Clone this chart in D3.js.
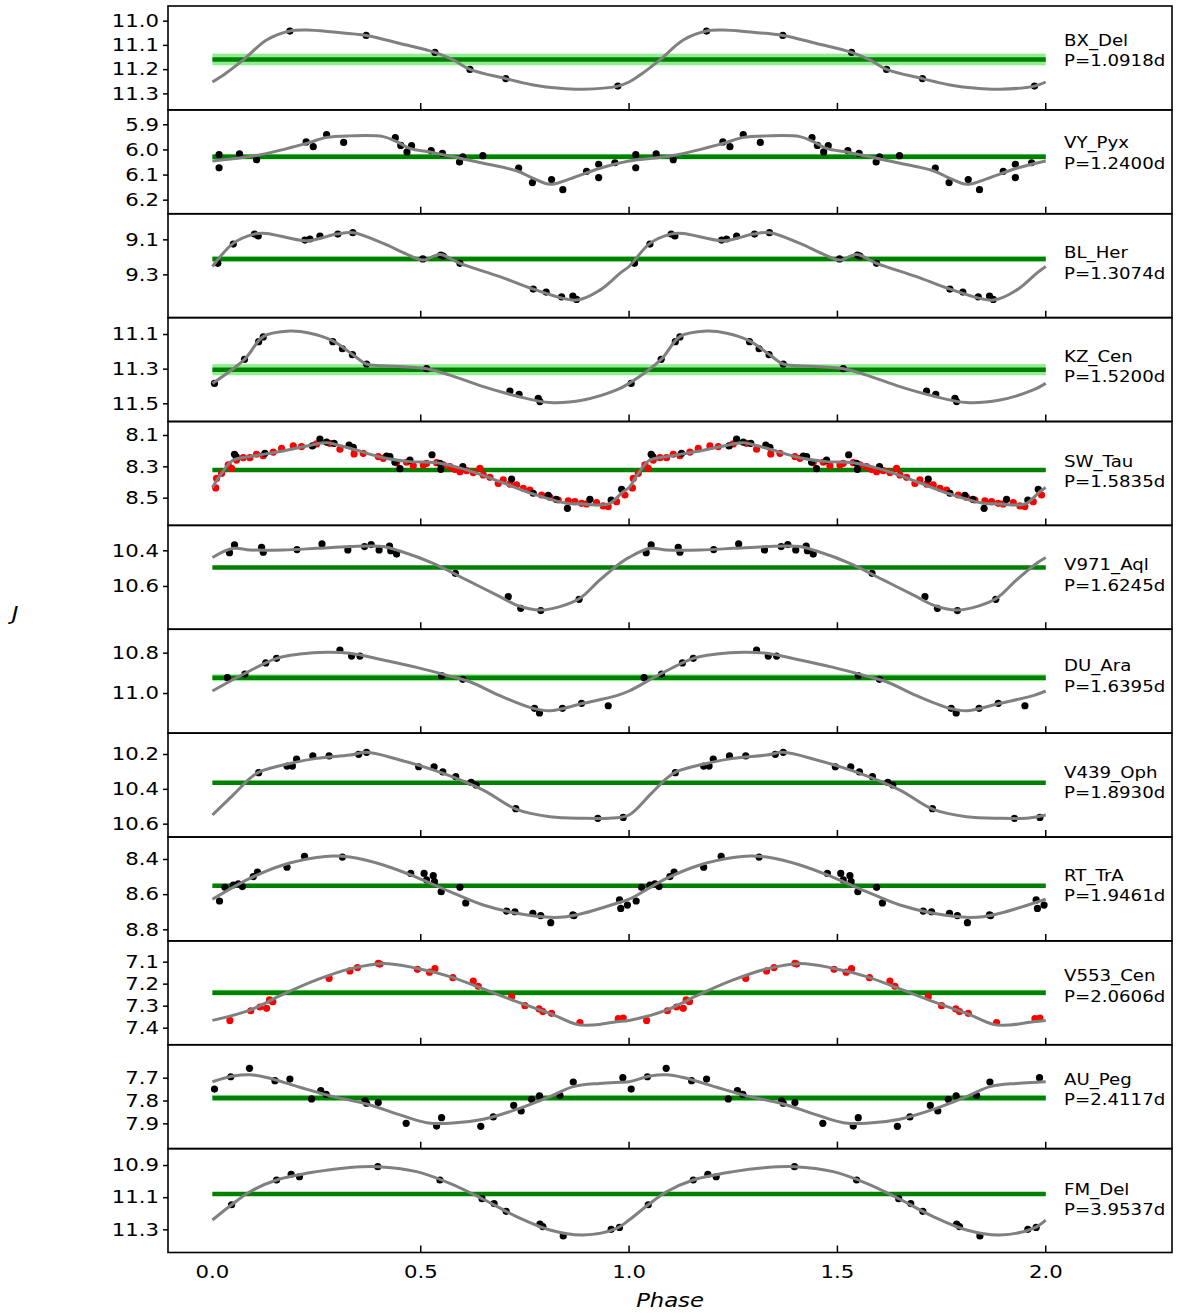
<!DOCTYPE html>
<html>
<head>
<meta charset="utf-8">
<script src="https://cdn.jsdelivr.net/npm/d3@7"></script>
<style>
  body { margin: 0; background: #fff; }
  text { font-family: "DejaVu Sans", sans-serif; fill: #000; }
</style>
</head>
<body>
<svg id="chart" width="1177" height="1313"></svg>
<script>
// star names, periods (days)
const stars = ["BX_Del","VY_Pyx","BL_Her","KZ_Cen","SW_Tau","V971_Aql","DU_Ara","V439_Oph","RT_TrA","V553_Cen","AU_Peg","FM_Del"];
const periods = ["1.0918","1.2400","1.3074","1.5200","1.5835","1.6245","1.6395","1.8930","1.9461","2.0606","2.4117","3.9537"];
// mean J (green line) and its uncertainty (light band)
const meanJ = [11.16, 6.029, 9.212, 11.306, 8.323, 10.497, 10.924, 10.365, 8.552, 7.241, 7.789, 11.08];
const meanErr = [0.024, 0.011, 0.015, 0.032, 0.008, 0.008, 0.017, 0.008, 0.01, 0.013, 0.013, 0.01];
// y ranges (top, bottom) in magnitudes - inverted axis
const yTop = [10.9395, 5.8425, 8.9538, 11.0054, 8.0138, 10.2602, 10.6839, 10.08, 8.2749, 7.0056, 7.5558, 10.798];
const yBottom = [11.368, 6.256, 9.547, 11.605, 8.677, 10.8426, 11.1988, 10.6765, 8.8658, 7.4776, 8.0107, 11.444];
const yTicks = [
  [11.0, 11.1, 11.2, 11.3], [5.9, 6.0, 6.1, 6.2], [9.1, 9.3], [11.1, 11.3, 11.5],
  [8.1, 8.3, 8.5], [10.4, 10.6], [10.8, 11.0], [10.2, 10.4, 10.6],
  [8.4, 8.6, 8.8], [7.1, 7.2, 7.3, 7.4], [7.7, 7.8, 7.9], [10.9, 11.1, 11.3]
];
const xTickLabels = [0.0, 0.5, 1.0, 1.5, 2.0];

// fitted light curves over one cycle [phase, J]
const bxDelFit = [[0,11.253],[0.03,11.22],[0.074,11.162],[0.13,11.08],[0.186,11.043],[0.226,11.039],[0.29,11.047],[0.369,11.061],[0.45,11.094],[0.534,11.131],[0.578,11.162],[0.618,11.201],[0.704,11.239],[0.77,11.265],[0.834,11.279],[0.89,11.283],[0.973,11.27]];
const vyPyxFit = [[0,6.046],[0.106,6.024],[0.226,5.976],[0.274,5.952],[0.33,5.946],[0.41,5.949],[0.442,5.969],[0.474,5.996],[0.53,6.013],[0.65,6.055],[0.73,6.085],[0.77,6.115],[0.81,6.139],[0.85,6.122],[0.93,6.075]];
const blHerFit = [[0,9.255],[0.05,9.123],[0.1,9.07],[0.13,9.066],[0.226,9.108],[0.298,9.07],[0.338,9.062],[0.41,9.123],[0.466,9.184],[0.506,9.218],[0.546,9.186],[0.594,9.237],[0.69,9.313],[0.77,9.384],[0.874,9.447],[0.93,9.39],[0.98,9.29]];
const kzCenFit = [[0,11.385],[0.077,11.246],[0.122,11.115],[0.186,11.083],[0.234,11.096],[0.289,11.14],[0.338,11.221],[0.37,11.273],[0.41,11.283],[0.514,11.3],[0.57,11.337],[0.65,11.404],[0.73,11.458],[0.81,11.496],[0.89,11.481],[0.97,11.423]];
const swTauFit = [[0,8.435],[0.022,8.345],[0.05,8.26],[0.09,8.238],[0.17,8.202],[0.25,8.157],[0.274,8.149],[0.33,8.185],[0.41,8.245],[0.474,8.27],[0.538,8.277],[0.61,8.323],[0.69,8.398],[0.77,8.477],[0.85,8.536],[0.89,8.54],[0.93,8.547],[0.954,8.536],[0.986,8.462]];
const v971AqlFit = [[0,10.44],[0.05,10.389],[0.09,10.398],[0.17,10.398],[0.25,10.389],[0.33,10.379],[0.41,10.379],[0.45,10.404],[0.53,10.473],[0.61,10.566],[0.69,10.66],[0.73,10.707],[0.786,10.735],[0.834,10.716],[0.882,10.669],[0.93,10.566],[0.98,10.47]];
const duAraFit = [[0,10.99],[0.074,10.907],[0.154,10.828],[0.21,10.807],[0.274,10.798],[0.33,10.803],[0.41,10.836],[0.49,10.873],[0.57,10.916],[0.618,10.944],[0.69,11.013],[0.77,11.076],[0.81,11.088],[0.89,11.051],[0.97,11.013]];
const v439OphFit = [[0,10.55],[0.05,10.435],[0.09,10.34],[0.114,10.301],[0.186,10.254],[0.25,10.225],[0.33,10.206],[0.37,10.19],[0.45,10.234],[0.554,10.311],[0.65,10.407],[0.73,10.518],[0.81,10.56],[0.89,10.569],[0.96,10.567]];
const rtTraFit = [[0,8.629],[0.09,8.51],[0.17,8.434],[0.25,8.392],[0.29,8.383],[0.33,8.389],[0.41,8.434],[0.49,8.504],[0.57,8.586],[0.65,8.662],[0.73,8.709],[0.81,8.732],[0.85,8.728],[0.89,8.709],[0.97,8.652]];
const v553CenFit = [[0,7.367],[0.09,7.32],[0.17,7.248],[0.25,7.183],[0.33,7.133],[0.41,7.108],[0.49,7.13],[0.57,7.168],[0.65,7.224],[0.73,7.282],[0.81,7.335],[0.874,7.385],[0.914,7.388],[0.97,7.373]];
const auPegFit = [[0,7.718],[0.05,7.693],[0.09,7.687],[0.13,7.699],[0.21,7.742],[0.29,7.783],[0.37,7.815],[0.45,7.863],[0.514,7.897],[0.57,7.9],[0.65,7.882],[0.73,7.839],[0.81,7.783],[0.866,7.739],[0.93,7.725],[0.98,7.72]];
const fmDelFit = [[0,11.242],[0.046,11.147],[0.09,11.066],[0.154,10.993],[0.25,10.941],[0.33,10.915],[0.397,10.91],[0.49,10.941],[0.57,11.014],[0.65,11.113],[0.73,11.221],[0.81,11.304],[0.89,11.335],[0.97,11.294]];

// observations, black [phase, J]
const bxDelObs = [[0.186,11.043],[0.369,11.061],[0.534,11.131],[0.618,11.201],[0.704,11.239],[0.973,11.27]];
const vyPyxObs = [[0.016,6.021],[0.016,6.073],[0.065,6.018],[0.106,6.041],[0.225,5.97],[0.242,5.989],[0.274,5.941],[0.315,5.972],[0.439,5.953],[0.452,5.984],[0.467,6.01],[0.478,5.985],[0.525,6.005],[0.552,6.016],[0.593,6.05],[0.601,6.029],[0.649,6.025],[0.735,6.074],[0.768,6.132],[0.814,6.12],[0.841,6.16],[0.898,6.087],[0.927,6.059],[0.927,6.112],[0.966,6.053]];
const blHerObs = [[0.013,9.237],[0.05,9.127],[0.101,9.07],[0.11,9.081],[0.222,9.104],[0.234,9.098],[0.258,9.081],[0.301,9.07],[0.337,9.062],[0.505,9.212],[0.548,9.19],[0.554,9.195],[0.594,9.237],[0.77,9.384],[0.801,9.401],[0.838,9.428],[0.865,9.424],[0.874,9.443]];
const kzCenObs = [[0.005,11.385],[0.077,11.246],[0.111,11.144],[0.122,11.117],[0.289,11.144],[0.312,11.185],[0.336,11.219],[0.37,11.273],[0.514,11.3],[0.714,11.429],[0.736,11.448],[0.782,11.471],[0.786,11.49]];
const swTauObs = [[0.053,8.223],[0.057,8.238],[0.126,8.217],[0.24,8.17],[0.258,8.126],[0.274,8.145],[0.292,8.153],[0.328,8.164],[0.338,8.179],[0.418,8.234],[0.426,8.238],[0.438,8.274],[0.45,8.315],[0.474,8.26],[0.527,8.226],[0.546,8.281],[0.548,8.319],[0.601,8.302],[0.718,8.381],[0.77,8.472],[0.806,8.485],[0.825,8.511],[0.852,8.568],[0.906,8.511],[0.957,8.515],[0.982,8.447]];
const v971AqlObs = [[0.041,10.413],[0.053,10.37],[0.118,10.383],[0.122,10.411],[0.203,10.396],[0.263,10.364],[0.325,10.398],[0.365,10.379],[0.381,10.368],[0.4,10.398],[0.425,10.376],[0.428,10.402],[0.442,10.421],[0.583,10.529],[0.71,10.66],[0.74,10.725],[0.788,10.738],[0.88,10.675]];
const duAraObs = [[0.036,10.924],[0.078,10.906],[0.128,10.851],[0.154,10.828],[0.306,10.787],[0.334,10.817],[0.354,10.817],[0.55,10.914],[0.601,10.932],[0.773,11.076],[0.785,11.099],[0.84,11.076],[0.886,11.051],[0.95,11.063]];
const v439OphObs = [[0.111,10.307],[0.179,10.269],[0.192,10.269],[0.202,10.229],[0.241,10.211],[0.28,10.211],[0.351,10.202],[0.37,10.19],[0.495,10.273],[0.532,10.273],[0.553,10.303],[0.584,10.33],[0.621,10.363],[0.633,10.378],[0.728,10.514],[0.925,10.569],[0.986,10.564]];
const rtTraObs = [[0.017,8.639],[0.03,8.561],[0.05,8.548],[0.062,8.542],[0.072,8.557],[0.098,8.5],[0.108,8.474],[0.179,8.447],[0.221,8.385],[0.312,8.389],[0.476,8.482],[0.508,8.482],[0.514,8.519],[0.53,8.495],[0.533,8.529],[0.549,8.586],[0.594,8.561],[0.608,8.65],[0.706,8.696],[0.726,8.7],[0.769,8.709],[0.788,8.722],[0.812,8.762],[0.865,8.718],[0.868,8.722],[0.977,8.633],[0.98,8.681],[0.996,8.662]];
const auPegObs = [[0.005,7.75],[0.044,7.696],[0.089,7.659],[0.15,7.713],[0.186,7.706],[0.238,7.793],[0.26,7.757],[0.273,7.773],[0.366,7.802],[0.37,7.812],[0.398,7.809],[0.465,7.9],[0.538,7.912],[0.55,7.875],[0.644,7.913],[0.674,7.872],[0.723,7.821],[0.741,7.846],[0.766,7.795],[0.785,7.78],[0.834,7.777],[0.866,7.719],[0.985,7.7]];
const fmDelObs = [[0.046,11.147],[0.154,10.993],[0.189,10.958],[0.209,10.973],[0.397,10.91],[0.546,10.993],[0.647,11.109],[0.676,11.14],[0.705,11.188],[0.786,11.267],[0.793,11.283],[0.842,11.341],[0.957,11.3],[0.977,11.288]];

// observations, red [phase, J]
const swTauRed = [[0.008,8.438],[0.01,8.377],[0.022,8.345],[0.038,8.291],[0.046,8.313],[0.058,8.26],[0.074,8.245],[0.09,8.245],[0.106,8.223],[0.122,8.232],[0.146,8.209],[0.166,8.185],[0.194,8.17],[0.214,8.174],[0.25,8.157],[0.282,8.153],[0.306,8.191],[0.34,8.221],[0.362,8.217],[0.398,8.238],[0.41,8.249],[0.442,8.277],[0.466,8.274],[0.482,8.296],[0.506,8.291],[0.514,8.281],[0.538,8.277],[0.554,8.291],[0.57,8.302],[0.582,8.319],[0.594,8.334],[0.61,8.328],[0.626,8.34],[0.642,8.313],[0.65,8.355],[0.666,8.37],[0.686,8.409],[0.698,8.387],[0.714,8.413],[0.73,8.419],[0.746,8.44],[0.762,8.451],[0.79,8.483],[0.81,8.498],[0.83,8.515],[0.854,8.521],[0.87,8.526],[0.886,8.536],[0.898,8.54],[0.922,8.532],[0.938,8.553],[0.95,8.557],[0.97,8.526],[0.99,8.483]];
const v553CenRed = [[0.042,7.367],[0.092,7.323],[0.114,7.306],[0.13,7.312],[0.137,7.274],[0.145,7.282],[0.28,7.176],[0.33,7.142],[0.348,7.127],[0.398,7.108],[0.402,7.111],[0.492,7.135],[0.521,7.148],[0.534,7.132],[0.577,7.173],[0.626,7.188],[0.638,7.212],[0.718,7.259],[0.75,7.3],[0.784,7.315],[0.793,7.327],[0.814,7.335],[0.882,7.377],[0.974,7.359],[0.986,7.356]];

const fits = [bxDelFit, vyPyxFit, blHerFit, kzCenFit, swTauFit, v971AqlFit, duAraFit, v439OphFit, rtTraFit, v553CenFit, auPegFit, fmDelFit];
const blackObs = [bxDelObs, vyPyxObs, blHerObs, kzCenObs, swTauObs, v971AqlObs, duAraObs, v439OphObs, rtTraObs, [], auPegObs, fmDelObs];
const redObs = [[], [], [], [], swTauRed, [], [], [], [], v553CenRed, [], []];

// layout: name label offset from panel top (px)
const labelOffset = [34, 33, 39, 38.5, 39.5, 39.5, 36.5, 39, 38, 35, 34.5, 40.5];

const svg = d3.select("#chart");
const left = 168, right = 1172, top0 = 6, panelH = 103.875;
const sTick = 1.18, sLab = 1.135;   // horizontal text stretch

const x = d3.scaleLinear().domain([-0.1066, 2.303]).range([left, right]);

// repeat one cycle over phases 0..2
function twoCycles(arr, closeLoop) {
  let out = arr.concat(arr.map(d => [d[0] + 1, d[1]]));
  if (closeLoop) out.push([2, arr[0][1]]);
  return out;
}

function stretchedText(parent, px, py, s, str) {
  return parent.append("text")
    .attr("transform", `translate(${px},${py}) scale(${s},1)`)
    .attr("dominant-baseline", "central").text(str);
}

stars.forEach((name, i) => {
  const top = top0 + i * panelH;
  const bottom = top + panelH;
  const y = d3.scaleLinear().domain([yTop[i], yBottom[i]]).range([top, bottom]);
  const g = svg.append("g");

  // light band + mean line
  g.append("rect")
    .attr("x", x(0)).attr("width", x(2) - x(0))
    .attr("y", y(meanJ[i] - meanErr[i]))
    .attr("height", y(meanJ[i] + meanErr[i]) - y(meanJ[i] - meanErr[i]))
    .attr("fill", "#90ee90");
  g.append("line")
    .attr("x1", x(0)).attr("x2", x(2))
    .attr("y1", y(meanJ[i])).attr("y2", y(meanJ[i]))
    .attr("stroke", "#008000").attr("stroke-width", 4.5);

  // points
  g.selectAll(".red").data(twoCycles(redObs[i], false).filter(d => d[0] <= 2))
    .join("circle")
    .attr("cx", d => x(d[0])).attr("cy", d => y(d[1])).attr("r", 3.6)
    .attr("fill", "#ff0000");
  g.selectAll(".blk").data(twoCycles(blackObs[i], false).filter(d => d[0] <= 2))
    .join("circle")
    .attr("cx", d => x(d[0])).attr("cy", d => y(d[1])).attr("r", 3.6)
    .attr("fill", "#000");

  // fitted curve
  const line = d3.line().x(d => x(d[0])).y(d => y(d[1])).curve(d3.curveCatmullRom.alpha(0.5));
  g.append("path").datum(twoCycles(fits[i], true))
    .attr("d", line).attr("fill", "none")
    .attr("stroke", "#808080").attr("stroke-width", 3);

  // frame
  g.append("rect")
    .attr("x", left).attr("y", top).attr("width", right - left).attr("height", panelH)
    .attr("fill", "none").attr("stroke", "#000").attr("stroke-width", 1.6);

  // x ticks (inward)
  g.selectAll(".xt").data([0.5, 1.0, 1.5, 2.0]).join("line")
    .attr("x1", d => x(d)).attr("x2", d => x(d))
    .attr("y1", bottom).attr("y2", bottom - 7)
    .attr("stroke", "#000").attr("stroke-width", 1.5);

  // y axis
  const yAxis = d3.axisLeft(y).tickValues(yTicks[i]).tickFormat(d3.format(".1f"))
    .tickSize(5).tickPadding(4);
  const ga = g.append("g").attr("transform", `translate(${left},0)`).call(yAxis);
  ga.select(".domain").remove();
  ga.selectAll("line").attr("stroke-width", 1.5);
  ga.selectAll("text")
    .attr("font-size", 18).attr("font-family", "DejaVu Sans")
    .attr("x", -9 / sTick).attr("transform", `scale(${sTick},1)`);

  // label
  stretchedText(g, 1064, top + labelOffset[i], sLab, name).attr("font-size", 16);
  stretchedText(g, 1064, top + labelOffset[i] + 20.5, sLab, `P=${periods[i]}d`).attr("font-size", 16);

  if (i === stars.length - 1) {
    xTickLabels.forEach(d => {
      stretchedText(g, x(d), bottom + 20, sTick, d3.format(".1f")(d))
        .attr("text-anchor", "middle").attr("font-size", 18);
    });
  }
});

stretchedText(svg, 670, 1300, sLab, "Phase")
  .attr("text-anchor", "middle").attr("font-size", 20).attr("font-style", "italic");
stretchedText(svg, 15, 613, sLab, "J")
  .attr("text-anchor", "middle").attr("font-size", 20).attr("font-style", "italic");
</script>
</body>
</html>
